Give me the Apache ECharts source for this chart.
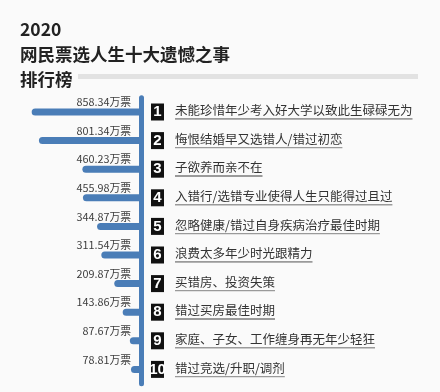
<!DOCTYPE html>
<html><head><meta charset="utf-8">
<script src="https://cdn.jsdelivr.net/npm/echarts@6/dist/echarts.min.js"></script>
<style>html,body{margin:0;padding:0;background:#fafafa}#c{width:440px;height:392px}</style>
</head><body><div id="c"></div>
<script>
const ranks = ['1','2','3','4','5','6','7','8','9','10'];
const items = ['未能珍惜年少考入好大学以致此生碌碌无为','悔恨结婚早又选错人/错过初恋','子欲养而亲不在','入错行/选错专业使得人生只能得过且过','忽略健康/错过自身疾病治疗最佳时期','浪费太多年少时光跟精力','买错房、投资失策','错过买房最佳时期','家庭、子女、工作缠身再无年少轻狂','错过竞选/升职/调剂'];
const votes = [858.34,801.34,460.23,455.98,344.87,311.54,209.87,143.86,87.67,78.81];
const unit = '万票';
const titleLines = ['2020','网民票选人生十大遗憾之事','排行榜'];

const FONT = '"Noto Sans CJK SC", sans-serif';
const blue = '#4a7db7';
const chart = echarts.init(document.getElementById('c'));
const underline = new echarts.graphic.LinearGradient(0,0,0,1,[
  {offset:0,color:'rgba(0,0,0,0)'},{offset:0.9,color:'rgba(0,0,0,0)'},
  {offset:0.9,color:'#9a9a9a'},{offset:1,color:'#9a9a9a'}]);
chart.setOption({
  backgroundColor:'#fafafa',
  title:{text:titleLines.join('\n'),left:15,top:12,
    textStyle:{fontFamily:FONT,fontSize:17.5,fontWeight:'bold',color:'#222',lineHeight:25}},
  graphic:[{type:'rect',left:78,top:74,shape:{width:340,height:5},style:{fill:'#e2e2e2'}}],
  grid:{left:20,right:299,top:97.7,bottom:8.3},
  xAxis:{type:'value',inverse:true,min:0,max:950,show:false},
  yAxis:{type:'category',inverse:true,position:'right',data:ranks,
    axisLine:{show:true,lineStyle:{color:blue,width:5}},axisTick:{show:false},
    axisLabel:{margin:10,align:'left',
      formatter:(v,i)=>'{num|'+v+'}{gap|}{txt|'+items[i]+'}',
      rich:{
        num:{backgroundColor:'#111',color:'#fff',fontFamily:'Liberation Sans, Arial',fontWeight:'bold',fontSize:15,width:13,height:17,lineHeight:17,align:'center'},
        gap:{width:11},
        txt:{fontFamily:FONT,fontSize:12.5,color:'#333',backgroundColor:underline,padding:[0,0,3,0]}
      }}},
  series:[{type:'bar',data:votes,barWidth:7,
    itemStyle:{color:blue,borderRadius:[4,0,0,4]},
    label:{show:true,position:'insideRight',distance:10,offset:[0,-10],
      formatter:p=>p.value.toFixed(2)+unit,
      fontFamily:FONT,fontSize:10.8,color:'#3c3c3c'}}]
});
</script></body></html>
